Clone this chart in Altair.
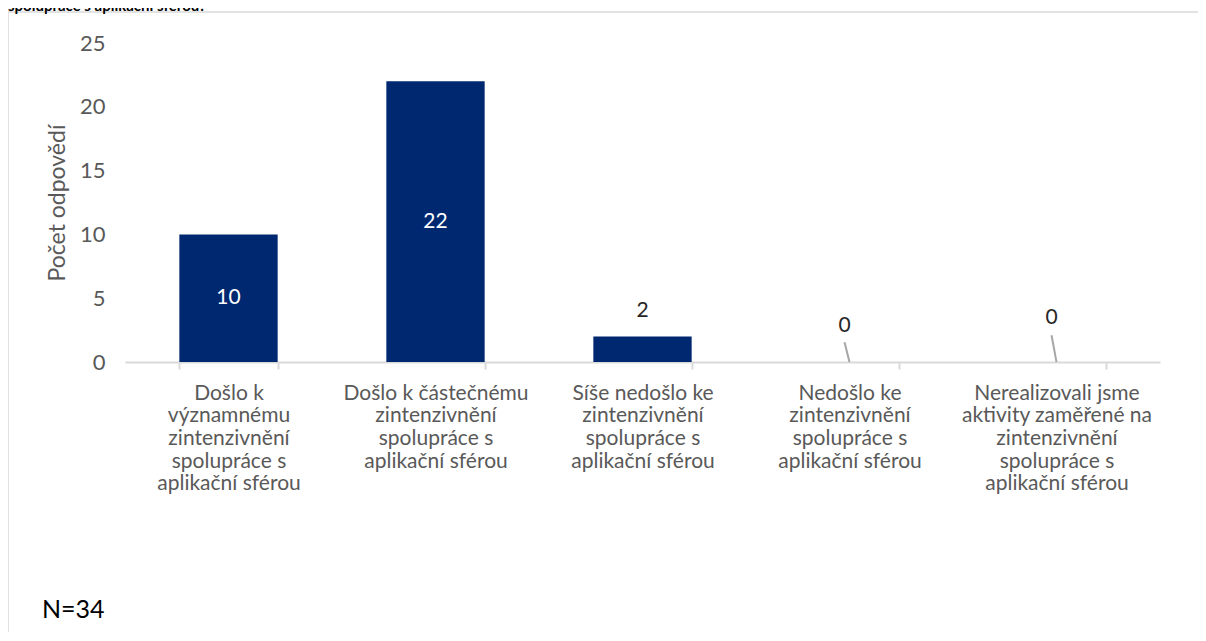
import altair as alt
import pandas as pd

categories = [
    "Došlo k|významnému|zintenzivnění|spolupráce s|aplikační sférou",
    "Došlo k částečnému|zintenzivnění|spolupráce s|aplikační sférou",
    "Síše nedošlo ke|zintenzivnění|spolupráce s|aplikační sférou",
    "Nedošlo ke|zintenzivnění|spolupráce s|aplikační sférou",
    "Nerealizovali jsme|aktivity zaměřené na|zintenzivnění|spolupráce s|aplikační sférou",
]
values = [10, 22, 2, 0, 0]
# label placement style: inside / above / callout
label_pos = ["inside", "inside", "above", "callout", "callout"]
callout_label_y = [0, 0, 0, 2.8, 3.45]
callout_line_top = [0, 0, 0, 1.55, 2.1]

title_text = "spolupráce s aplikační sférou?"
note_text = "N=34"

df = pd.DataFrame({
    "cat": categories,
    "value": values,
    "pos": label_pos,
    "ly": callout_label_y,
    "lt": callout_line_top,
})

FONT = "Lato"
W, H = 1035, 319
YSCALE = alt.Scale(domain=[0, 25], nice=False, zero=True)

x = alt.X("cat:N", sort=categories, title=None,
          scale=alt.Scale(paddingInner=0.525, paddingOuter=0.2625),
          axis=alt.Axis(labelExpr="split(datum.label, '|')", labelAngle=0,
                        labelFontSize=21, labelColor="#595959", labelFont=FONT,
                        labelLineHeight=22.7, labelPadding=13, labelLimit=300,
                        domainColor="#d9d9d9", domainWidth=2,
                        tickColor="#d9d9d9", tickWidth=2, tickSize=7,
                        tickBand="extent"))
y = alt.Y("value:Q", title="Počet odpovědí", scale=YSCALE,
          axis=alt.Axis(values=[0, 5, 10, 15, 20, 25], grid=False, domain=False,
                        ticks=False, labelFontSize=22, labelColor="#595959",
                        labelFont=FONT, labelPadding=20, titleFontSize=23,
                        titleColor="#595959", titleFont=FONT, titleFontWeight="normal",
                        titlePadding=10))

xc = alt.X("cat:N", sort=categories)
base = alt.Chart(df)

bars = base.mark_bar(color="#002870").encode(x=x, y=y)

inside = base.transform_filter("datum.pos == 'inside'").transform_calculate(
    mid="datum.value / 2").mark_text(
    color="white", fontSize=21, font=FONT).encode(
    x=xc, y=alt.Y("mid:Q", scale=YSCALE), text=alt.Text("value:Q"))

above = base.transform_filter("datum.pos == 'above'").mark_text(
    color="#262626", fontSize=21, font=FONT, baseline="bottom", dy=-15).encode(
    x=xc, y=alt.Y("value:Q", scale=YSCALE), text=alt.Text("value:Q"))

callout_text = base.transform_filter("datum.pos == 'callout'").mark_text(
    color="#262626", fontSize=21, font=FONT, dx=-5).encode(
    x=xc, y=alt.Y("ly:Q", scale=YSCALE), text=alt.Text("value:Q"))

callout_line = base.transform_filter("datum.pos == 'callout'").mark_rule(
    color="#a6a6a6", strokeWidth=2, x2Offset=-5).encode(
    x=xc, x2=alt.X2("cat:N"),
    y=alt.Y("value:Q", scale=YSCALE), y2=alt.Y2("lt:Q"))

frame = alt.Chart(pd.DataFrame({"k": [0]})).mark_rect(
    fill=None, stroke="#d9d9d9", strokeWidth=1.5).encode(
    x=alt.value(-117), x2=alt.value(W + 80), y=alt.value(-31), y2=alt.value(H + 300))

title = alt.Chart(pd.DataFrame({"t": [title_text]})).mark_text(
    align="left", baseline="alphabetic", fontSize=15, fontWeight="bold",
    font=FONT, color="black").encode(
    text="t:N", x=alt.value(-117), y=alt.value(-32))

note = alt.Chart(pd.DataFrame({"t": [note_text]})).mark_text(
    align="left", baseline="middle", fontSize=25, font=FONT,
    color="black").encode(text="t:N", x=alt.value(-83), y=alt.value(567))

chart = alt.layer(frame, bars, inside, above, callout_line, callout_text, title, note).properties(
    width=W, height=H,
    autosize=alt.AutoSizeParams(type="none"),
    padding={"left": 117, "top": 35, "right": 38, "bottom": 270},
).configure_view(stroke=None)

chart.save("out.html", embed_options={"renderer": "svg", "actions": False})
